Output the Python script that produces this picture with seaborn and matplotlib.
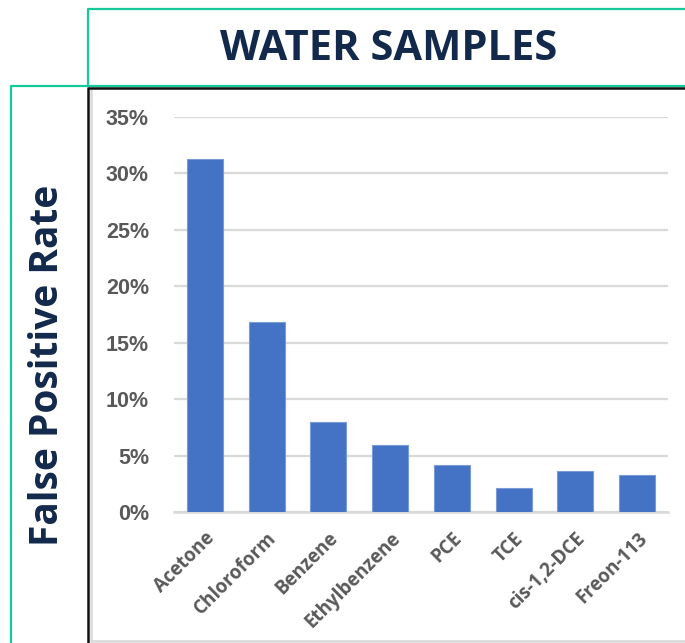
import matplotlib
matplotlib.use("Agg")
import matplotlib.pyplot as plt
from matplotlib.lines import Line2D
from matplotlib.ticker import PercentFormatter
import pandas as pd
import seaborn as sns

# False positive rates for water samples, by compound
compounds = ["Acetone", "Chloroform", "Benzene", "Ethylbenzene", "PCE", "TCE",
             "cis-1,2-DCE", "Freon-113"]
false_positive_rate = [0.313, 0.168, 0.080, 0.059, 0.042, 0.0215, 0.0365, 0.033]
y_ticks = [0.0, 0.05, 0.10, 0.15, 0.20, 0.25, 0.30, 0.35]

title_text = "WATER SAMPLES"
ylabel_text = "False Positive Rate"

df = pd.DataFrame({"compound": compounds, "rate": false_positive_rate})

sns.set_theme(style="white")
plt.rcParams["font.family"] = ["Liberation Sans", "DejaVu Sans"]

W, H = 685, 643
fig = plt.figure(figsize=(W / 100, H / 100), dpi=100)
ax = fig.add_axes([174 / W, 1 - 512 / H, (668 - 174) / W, (512 - 117) / H])

sns.barplot(data=df, x="compound", y="rate", color="#4472C4", width=0.58,
            saturation=1, edgecolor="#7a9bd8", linewidth=0.8, ax=ax, zorder=3)

ax.set_ylim(0, 0.35)
ax.set_xlim(-0.5, len(compounds) - 0.5)
ax.set_yticks(y_ticks)
ax.yaxis.set_major_formatter(PercentFormatter(1.0, decimals=0))
ax.grid(axis="y", color="#D9D9D9", linewidth=1.6, zorder=0)
ax.grid(axis="x", visible=False)
for s in ["top", "right", "left"]:
    ax.spines[s].set_visible(False)
ax.spines["bottom"].set_color("#D9D9D9")
ax.spines["bottom"].set_linewidth(1.8)
ax.set_xlabel("")
ax.set_ylabel("")

ax.tick_params(axis="y", length=0, pad=18, labelsize=15.5, labelcolor="#595959")
ax.tick_params(axis="x", length=0, pad=12, labelcolor="#595959")
for lbl in ax.get_yticklabels():
    lbl.set_fontweight("bold")
for lbl in ax.get_xticklabels():
    lbl.set_rotation(45)
    lbl.set_ha("right")
    lbl.set_rotation_mode("anchor")
    lbl.set_fontsize(13.5)
    lbl.set_fontfamily(["Open Sans", "DejaVu Sans"])
    lbl.set_fontweight("bold")

# Title and y-axis label in their framed panels
fig.text(389 / W, 1 - 49 / H, title_text, ha="center", va="center",
         fontsize=30, fontweight="bold", color="#13294B", family=["Open Sans", "DejaVu Sans"])
fig.text(48 / W, 1 - 365 / H, ylabel_text, ha="center", va="center", rotation=90,
         fontsize=28, fontweight="bold", color="#13294B", family=["Open Sans", "DejaVu Sans"])

def fline(xs, ys, color, lw):
    fig.add_artist(Line2D([x / W for x in xs], [1 - y / H for y in ys],
                          transform=fig.transFigure, color=color, linewidth=lw,
                          solid_capstyle="butt"))

green = "#14C99A"
# title panel frame
fline([88, 88, W], [87, 9, 9], green, 1.6)
# y-label panel frame
fline([11, 11, 88], [H, 86, 86], green, 1.6)
fline([88, W], [86, 86], green, 1.6)
# light chart-area border
fline([90.5, 90.5, W], [89, 640.5, 640.5], "#D9D9D9", 1.8)
# dark dividers
fline([88, W], [87.8, 87.8], "#111111", 1.8)
fline([88.2, 88.2], [87, H], "#111111", 1.8)

fig.savefig("out.png", dpi=100)
